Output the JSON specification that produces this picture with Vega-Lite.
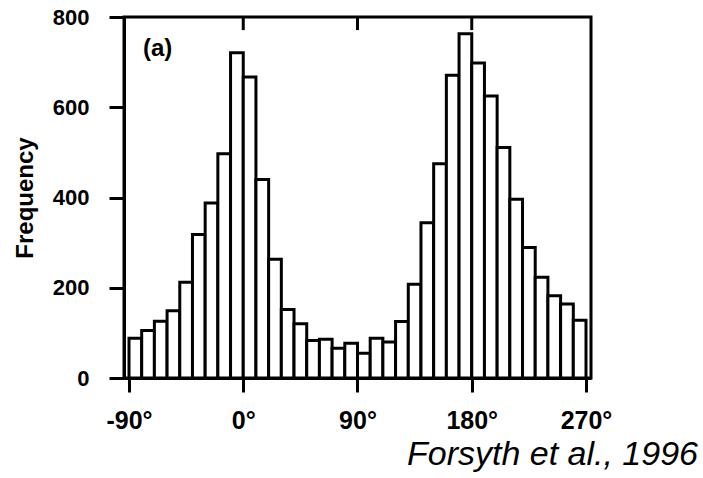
{
  "$schema": "https://vega.github.io/schema/vega-lite/v6.json",
  "width": 467,
  "height": 361,
  "autosize": "none",
  "padding": {"left": 124, "top": 17, "right": 112, "bottom": 100},
  "background": "white",
  "config": {
    "view": {"stroke": "black", "strokeWidth": 3},
    "font": "Liberation Sans"
  },
  "title": {
    "text": "Forsyth et al., 1996",
    "orient": "bottom",
    "anchor": "end",
    "frame": "group",
    "font": "Liberation Sans",
    "fontSize": 34,
    "fontStyle": "italic",
    "fontWeight": "normal",
    "color": "black",
    "dx": 107,
    "offset": 5
  },
  "resolve": {"axis": {"x": "independent"}},
  "layer": [
    {
      "data": {
        "values": [
          {"from": -90, "to": -80, "frequency": 88},
          {"from": -80, "to": -70, "frequency": 105},
          {"from": -70, "to": -60, "frequency": 126},
          {"from": -60, "to": -50, "frequency": 149},
          {"from": -50, "to": -40, "frequency": 212},
          {"from": -40, "to": -30, "frequency": 318},
          {"from": -30, "to": -20, "frequency": 388},
          {"from": -20, "to": -10, "frequency": 497},
          {"from": -10, "to": 0, "frequency": 721},
          {"from": 0, "to": 10, "frequency": 667},
          {"from": 10, "to": 20, "frequency": 440},
          {"from": 20, "to": 30, "frequency": 263},
          {"from": 30, "to": 40, "frequency": 152},
          {"from": 40, "to": 50, "frequency": 120},
          {"from": 50, "to": 60, "frequency": 83},
          {"from": 60, "to": 70, "frequency": 86},
          {"from": 70, "to": 80, "frequency": 66},
          {"from": 80, "to": 90, "frequency": 77},
          {"from": 90, "to": 100, "frequency": 55},
          {"from": 100, "to": 110, "frequency": 88},
          {"from": 110, "to": 120, "frequency": 80},
          {"from": 120, "to": 130, "frequency": 125},
          {"from": 130, "to": 140, "frequency": 208},
          {"from": 140, "to": 150, "frequency": 344},
          {"from": 150, "to": 160, "frequency": 475},
          {"from": 160, "to": 170, "frequency": 671},
          {"from": 170, "to": 180, "frequency": 763},
          {"from": 180, "to": 190, "frequency": 698},
          {"from": 190, "to": 200, "frequency": 625},
          {"from": 200, "to": 210, "frequency": 511},
          {"from": 210, "to": 220, "frequency": 396},
          {"from": 220, "to": 230, "frequency": 289},
          {"from": 230, "to": 240, "frequency": 223},
          {"from": 240, "to": 250, "frequency": 182},
          {"from": 250, "to": 260, "frequency": 164},
          {"from": 260, "to": 270, "frequency": 128}
        ]
      },
      "mark": {"type": "bar", "fill": "white", "stroke": "black", "strokeWidth": 3, "orient": "vertical"},
      "encoding": {
        "x": {
          "field": "from",
          "type": "quantitative",
          "scale": {"domain": [-90, 270], "nice": false, "zero": false},
          "axis": {
            "orient": "bottom",
            "values": [-90, 0, 90, 180, 270],
            "labelExpr": "datum.value + '°'",
            "labelFont": "Liberation Sans",
            "labelFontWeight": "bold",
            "labelFontSize": 25,
            "labelColor": "black",
            "labelPadding": 16,
            "tickSize": 14,
            "tickWidth": 3,
            "tickColor": "black",
            "domainWidth": 3,
            "domainColor": "black",
            "grid": false,
            "title": null
          }
        },
        "x2": {"field": "to"},
        "y": {
          "field": "frequency",
          "type": "quantitative",
          "scale": {"domain": [0, 800], "nice": false},
          "axis": {
            "values": [0, 200, 400, 600, 800],
            "labelFont": "Liberation Sans",
            "labelFontWeight": "bold",
            "labelFontSize": 22,
            "labelColor": "black",
            "labelPadding": 20,
            "tickSize": 15,
            "tickWidth": 3,
            "tickColor": "black",
            "domainWidth": 3,
            "domainColor": "black",
            "grid": false,
            "title": "Frequency",
            "titleFont": "Liberation Sans",
            "titleFontWeight": "bold",
            "titleFontSize": 24,
            "titleColor": "black",
            "titlePadding": 15
          }
        },
        "y2": {"datum": 0}
      }
    },
    {
      "data": {"values": [{"tick": 0}, {"tick": 90}, {"tick": 180}]},
      "mark": {"type": "rule", "stroke": "black", "strokeWidth": 3},
      "encoding": {
        "x": {"field": "tick", "type": "quantitative", "axis": null},
        "y": {"datum": 800, "type": "quantitative"},
        "y2": {"datum": 771}
      }
    },
    {
      "data": {"values": [{"panel": "(a)"}]},
      "mark": {"type": "text", "align": "left", "baseline": "middle", "font": "Liberation Sans", "fontWeight": "bold", "fontSize": 24, "color": "black"},
      "encoding": {
        "text": {"field": "panel"},
        "x": {"datum": -79, "type": "quantitative", "axis": null},
        "y": {"datum": 730, "type": "quantitative"}
      }
    }
  ]
}
